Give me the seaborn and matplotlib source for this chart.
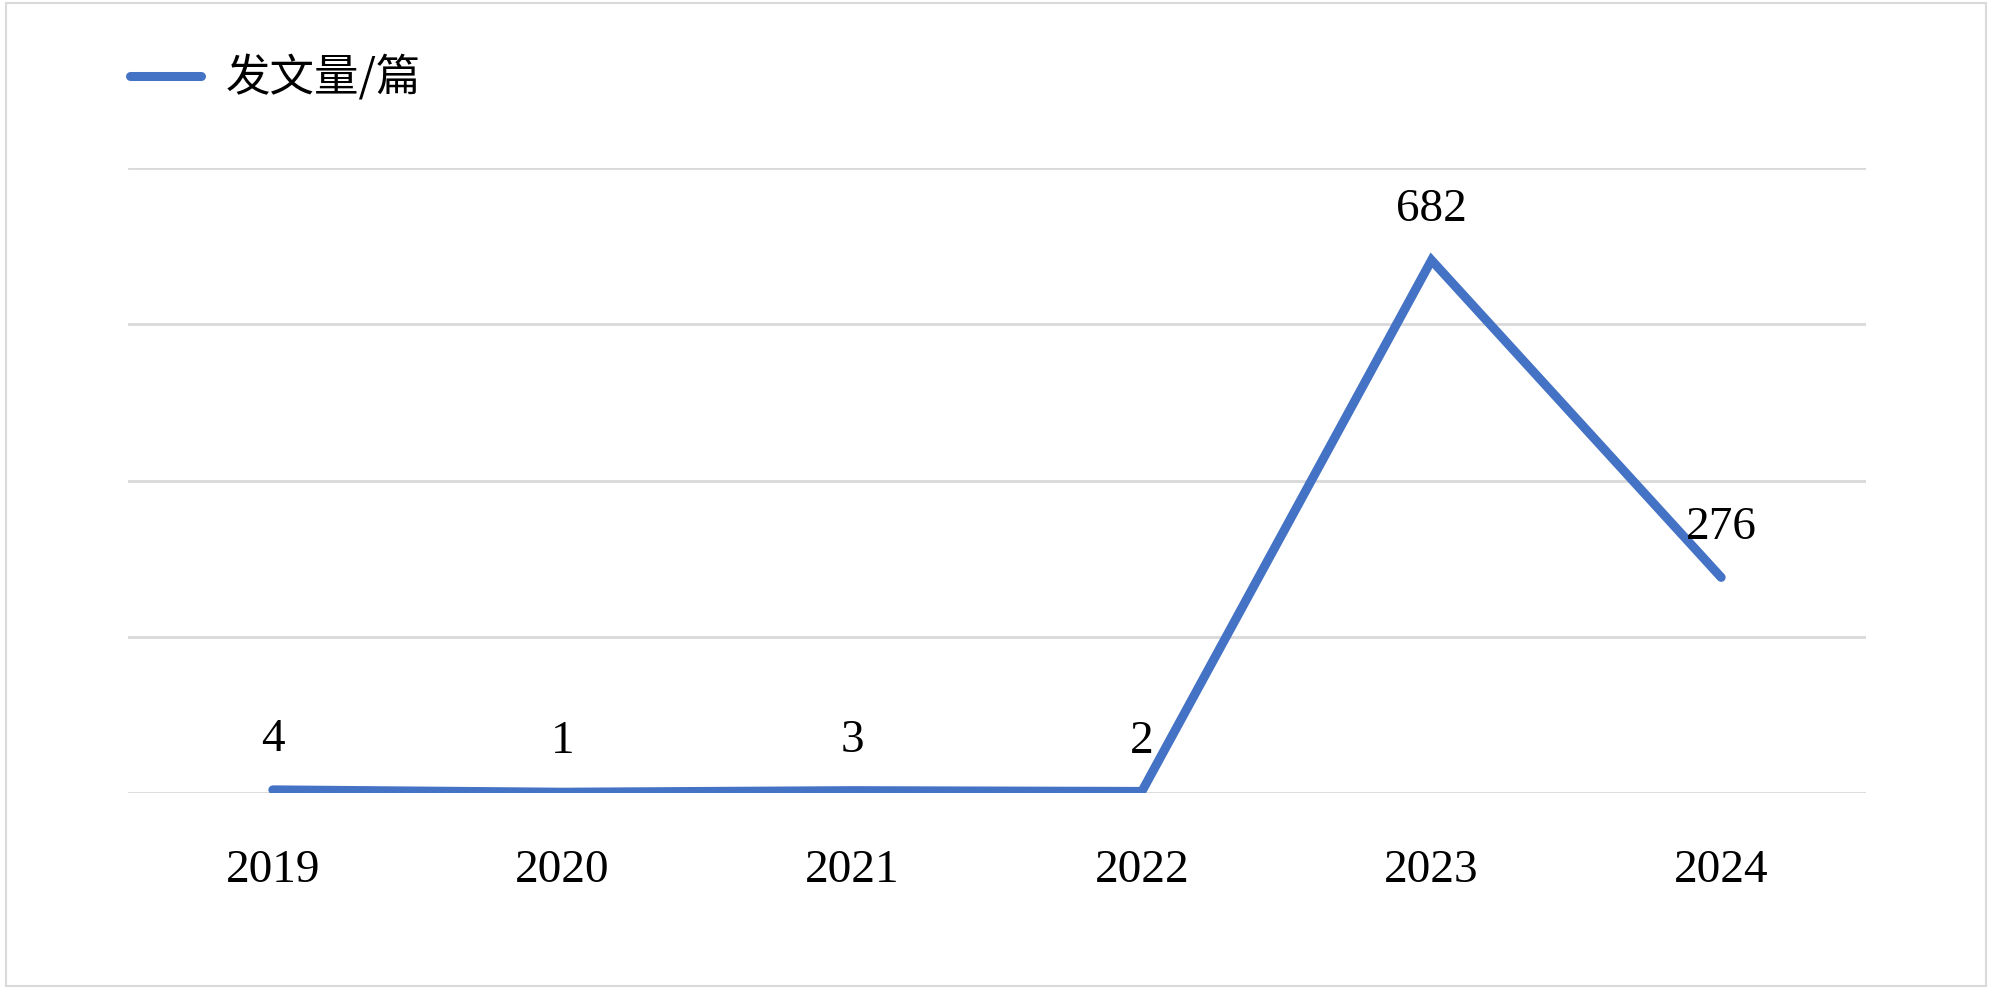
import matplotlib
matplotlib.use("Agg")
import matplotlib.pyplot as plt
import seaborn as sns
import pandas as pd
from matplotlib.patches import Rectangle

years = ["2019", "2020", "2021", "2022", "2023", "2024"]
counts = [4, 1, 3, 2, 682, 276]
series_name = "发文量/篇"

sns.set_theme(style="white")
plt.rcParams['font.family'] = ['Liberation Serif', 'Noto Sans CJK SC', 'DejaVu Sans']
plt.rcParams['text.color'] = 'black'
plt.rcParams['xtick.color'] = 'black'

df = pd.DataFrame({"year": years, "count": counts})

fig = plt.figure(figsize=(20, 10), dpi=100)
ax = fig.add_axes([0.064, 0.207, 0.869, 0.625])

sns.lineplot(data=df, x="year", y="count", ax=ax, color="#4472C4",
             linewidth=6.5, label=series_name, sort=False,
             solid_capstyle="round", solid_joinstyle="miter")

ax.set_xlim(-0.5, 5.5)
ax.set_ylim(0, 800)
ax.set_yticks([0, 200, 400, 600, 800])
ax.yaxis.grid(True, color="#D9D9D9", linewidth=2)
ax.xaxis.grid(False)
ax.set_axisbelow(True)
ax.tick_params(axis="y", left=False, labelleft=False)
ax.tick_params(axis="x", bottom=False, pad=35, labelsize=34, labelcolor="black")
for lbl in ax.get_xticklabels():
    lbl.set_fontfamily(['Liberation Serif'])
ax.set_xlabel("")
ax.set_ylabel("")
for s in ax.spines.values():
    s.set_visible(False)

for i, v in enumerate(counts):
    ax.annotate(str(v), (i, v), xytext=(0, 36), textcoords="offset points",
                ha="center", va="center", fontsize=34, family=['Liberation Serif'],
                color="black")

leg = ax.legend(loc="upper left", bbox_to_anchor=(0.045, 0.984),
                bbox_transform=fig.transFigure, frameon=False,
                handlelength=1.6, handletextpad=0.55,
                prop={'family': ['Noto Sans CJK SC', 'DejaVu Sans'], 'size': 32})
for t in leg.get_texts():
    t.set_color("black")
for h in leg.get_lines():
    h.set_linewidth(6.5)
    h.set_solid_capstyle("round")

fig.patches.append(Rectangle((0.003, 0.014), 0.99, 0.983, transform=fig.transFigure,
                             fill=False, edgecolor="#D9D9D9", linewidth=1.5))

fig.savefig("out.png", dpi=100, facecolor="white")
